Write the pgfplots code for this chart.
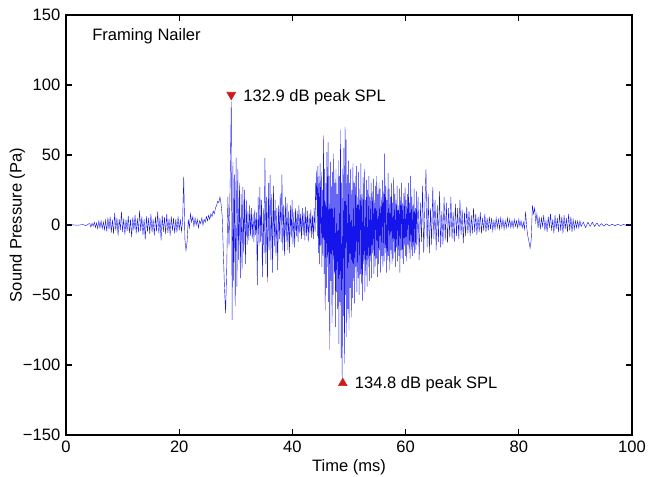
\documentclass[border=0pt]{standalone}
\usepackage{fontspec}
\setmainfont{Liberation Sans}
\usepackage{pgfplots}
\pgfplotsset{compat=1.18}
\definecolor{mkred}{RGB}{200,30,30}
\definecolor{wave}{RGB}{20,20,235}
\begin{document}
\fontsize{12.4}{14}\selectfont
\begin{tikzpicture}
% picture frame in reference proportions (1px = 0.75pt)
\path[use as bounding box] (-49.5pt,-31.5pt) rectangle (437.25pt,326.25pt);
\begin{axis}[
  at={(0,0)}, anchor=south west,
  scale only axis, width=424.5pt, height=315pt,
  xmin=0, xmax=100, ymin=-150, ymax=150,
  xtick={0,20,40,60,80,100},
  ytick={-150,-100,-50,0,50,100,150},
  yticklabels={−150,−100,−50,0,50,100,150},
  tick align=inside, major tick length=4.5pt,
  axis line style={line width=0.8pt},
  every tick/.style={black, line width=0.8pt},
  xlabel={Time (ms)}, ylabel={Sound Pressure (Pa)},
  xlabel style={yshift=3pt},
  ylabel style={yshift=-10pt},
  tick label style={font=\fontsize{12.4}{14}\selectfont},
  label style={font=\fontsize{12.4}{14}\selectfont},
  /pgf/number format/assume math mode=true,
  clip=true,
]
\addplot[wave, line width=0.3pt] coordinates {
(0,0)(1,0.2)(2,-0.2)(3,0.3)(3.5,-0.5)(4,0.8)
(4.2,1)(4.4,-1.5)(4.6,1.2)(4.8,-0.8)(5.0,2)(5.2,-1.8)(5.4,1.5)(5.6,-2.5)(5.8,2.8)(6.0,-2)
(6.2,3)(6.4,-2.6)(6.6,2.2)(6.8,-3.4)(7.0,3.5)
(7.2,-4.5)(7.4,5.2)(7.6,-3.1)(7.8,6.0)(8.0,-5.5)(8.2,3.8)(8.4,-6.2)(8.6,8.5)(8.8,-4.0)(9.0,5.1)
(9.2,-7.5)(9.4,4.2)(9.6,-3.6)(9.8,9.5)(10.0,-5.0)(10.2,4.6)(10.4,-6.8)(10.6,3.9)(10.8,-4.4)(11.0,6.5)
(11.2,-5.8)(11.4,4.0)(11.6,-8.6)(11.8,5.5)(12.0,-3.9)(12.2,7.2)(12.4,-6.1)(12.6,4.8)(12.8,-5.2)(13.0,10.2)
(13.2,-4.3)(13.4,5.9)(13.6,-7.0)(13.8,4.4)(14.0,-10.5)(14.2,6.2)(14.4,-4.8)(14.6,5.0)(14.8,-6.5)(15.0,7.8)
(15.2,-5.2)(15.4,4.1)(15.6,-7.4)(15.8,6.0)(16.0,-4.6)(16.2,9.6)(16.4,-6.0)(16.6,5.2)(16.8,-11.0)(17.0,6.8)
(17.2,-4.9)(17.4,5.6)(17.6,-6.4)(17.8,8.0)(18.0,-5.6)(18.2,4.4)(18.4,-7.6)(18.6,6.2)(18.8,-4.0)(19.0,5.0)
(19.2,-6.0)(19.4,4.2)(19.6,-5.3)(19.8,6.2)(20.0,-3.8)(20.2,4.0)(20.4,-4.5)(20.6,2.5)
(20.8,34.5)(21.0,-10)(21.2,-18)(21.4,-12)(21.6,4)(21.8,-2)(22.0,8)(22.2,2)(22.4,6)(22.6,-1)
(22.8,5)(23.0,0)(23.2,4)(23.4,-2)(23.6,3)(23.8,1)(24.0,5)(24.2,0)(24.4,4)(24.6,2)
(24.8,6)(25.0,3)(25.2,7)(25.4,4)(25.6,8)(25.8,6)(26.0,10)(26.2,8)(26.4,12)(26.6,14)
(26.8,17)(27.0,16)(27.2,20)(27.4,15)(27.6,6)(27.8,-20)(28.0,-45)(28.2,-63)(28.4,-30)(28.6,20)
(28.8,-15)(29.0,30)(29.2,88.3)(29.35,-68)(29.5,45)(29.6,-40)(29.75,36)(29.9,-58)(30.05,48)(30.2,-44)
(30.35,40)(30.5,-25)(30.65,30)(30.8,-38)(30.95,22)(31.1,-32)(31.25,27)(31.4,-20)(31.55,25)(31.7,-28)
(31.85,18)(32.0,-14)(32.15,10)(32.3,-11)(32.45,14)(32.6,-8)(32.75,12)(32.9,-10)(33.05,8)(33.2,-12)
(33.35,11)(33.5,-7)(33.65,9)(33.8,-43)(33.95,20)(34.1,-15)(34.25,27)(34.4,-12)(34.55,18)(34.7,-37)
(34.85,12)(35.0,-20)(35.15,48)(35.3,-28)(35.45,20)(35.6,-41)(35.75,30)(35.9,-18)(36.05,36)(36.2,-25)
(36.35,22)(36.5,-34)(36.65,28)(36.8,-15)(36.95,18)(37.1,-22)(37.25,12)(37.4,-32)(37.55,14)(37.7,-10)
(37.85,22)(38.0,-12)(38.15,36)(38.3,-18)(38.45,14)(38.6,-22)(38.75,20)(38.9,-12)(39.05,16)(39.2,-18)
(39.35,10)(39.5,-20)(39.65,14)(39.8,-9)(39.95,18)(40.1,-14)(40.25,9)(40.4,-16)(40.55,12)(40.7,-8)
(40.85,10)(41.0,-12)(41.15,14)(41.3,-6)(41.45,8)(41.6,-10)(41.75,12)(41.9,-7)(42.05,9)(42.2,-11)
(42.35,13)(42.5,-8)(42.65,10)(42.8,-12)(42.95,8)(43.1,-6)(43.25,11)(43.4,-9)(43.55,7)(43.7,-10)
(43.85,12)(44.0,-5)
(44.1,30)(44.2,18)(44.3,39)(44.4,-8)(44.5,42)(44.6,-20)(44.7,35)(44.8,-28)(44.9,44)(45.0,-15)
(45.1,38)(45.2,-30)(45.3,25)(45.4,-22)(45.5,64)(45.6,-35)(45.7,40)(45.8,-61)(45.9,30)(46.0,-45)
(46.1,52)(46.2,-30)(46.3,59)(46.4,-55)(46.5,35)(46.6,-89)(46.7,45)(46.8,-40)(46.9,28)(47.0,-70)
(47.1,38)(47.2,-50)(47.3,51)(47.4,-35)(47.5,30)(47.6,-73)(47.7,40)(47.8,-48)(47.9,22)(48.0,-60)
(48.1,46)(48.2,-85)(48.3,35)(48.4,-55)(48.5,68)(48.6,-95)(48.7,30)(48.8,-110)(48.9,40)(49.0,-65)
(49.1,55)(49.2,-99)(49.3,70)(49.4,-50)(49.5,61)(49.6,-80)(49.7,36)(49.8,-60)(49.9,46)(50.0,-75)
(50.1,30)(50.2,-45)(50.3,40)(50.4,-66)(50.5,25)(50.6,-52)(50.7,44)(50.8,-40)(50.9,30)(51.0,-56)
(51.1,35)(51.2,-30)(51.3,42)(51.4,-48)(51.5,20)(51.6,-38)(51.7,38)(51.8,-50)(51.9,26)(52.0,-35)
(52.1,44)(52.2,-42)(52.3,22)(52.4,-54)(52.5,34)(52.6,-28)(52.7,40)(52.8,-48)(52.9,18)(53.0,-36)
(53.1,32)(53.2,-44)(53.3,25)(53.4,-30)(53.5,35)(53.6,-40)(53.7,20)(53.8,-26)(53.9,30)(54.0,-38)
(54.1,24)(54.2,-20)(54.3,33)(54.4,-35)(54.5,18)(54.6,-30)(54.7,28)(54.8,-24)(54.9,35)(55.0,-37)
(55.1,22)(55.2,-28)(55.3,30)(55.4,-18)(55.5,26)(55.6,-34)(55.7,20)(55.8,-22)(55.9,32)(56.0,-30)
(56.1,24)(56.2,-26)(56.3,51)(56.4,-20)(56.5,28)(56.6,-34)(56.7,18)(56.8,-25)(56.9,37)(57.0,-22)
(57.1,26)(57.2,-32)(57.3,20)(57.4,-18)(57.5,30)(57.6,-28)(57.7,16)(57.8,-24)(57.9,34)(58.0,-20)
(58.1,22)(58.2,-30)(58.3,18)(58.4,-16)(58.5,28)(58.6,-26)(58.7,14)(58.8,-22)(58.9,26)(59.0,-34)
(59.1,20)(59.2,-18)(59.3,30)(59.4,-24)(59.5,16)(59.6,-28)(59.7,23)(59.8,-15)(59.9,27)(60.0,-22)
(60.1,18)(60.2,-26)(60.3,22)(60.4,-14)(60.5,30)(60.6,-20)(60.7,16)(60.8,-24)(60.9,35)(61.0,-18)
(61.1,20)(61.2,-22)(61.3,14)(61.4,-16)(61.5,26)(61.6,-20)(61.7,12)(61.8,-18)(61.9,24)(62.0,-14)
(62.2,20)(62.4,-25)(62.6,16)(62.8,-12)(63.0,28)(63.2,-20)(63.4,14)(63.6,40)(63.8,-16)(64.0,22)
(64.2,-20)(64.4,12)(64.6,-14)(64.8,27)(65.0,-10)(65.2,18)(65.4,-18)(65.6,14)(65.8,-12)(66.0,24)
(66.2,-16)(66.4,10)(66.6,-14)(66.8,20)(67.0,-11)(67.2,16)(67.4,-13)(67.6,12)(67.8,-9)(68.0,20)
(68.2,-10)(68.4,9)(68.6,-12)(68.8,15)(69.0,-8)(69.2,12)(69.4,-10)(69.6,18)(69.8,-7)(70.0,11)
(70.2,-13)(70.4,9)(70.6,-8)(70.8,13)(71.0,-6)(71.2,10)(71.4,-8)(71.6,7)(71.8,-6)(72.0,12)
(72.2,-5)(72.4,8)(72.6,-7)(72.8,6)(73.0,-5)(73.2,9)(73.4,-6)(73.6,5)(73.8,-4)(74.0,8)
(74.2,-5)(74.4,5)(74.6,-4)(74.8,6)(75.0,-3)(75.2,5)(75.4,-4)(75.6,3)(75.8,-3)(76.0,5)
(76.2,-2)(76.4,4)(76.6,-3)(76.8,5)(77.0,-2)(77.2,4)(77.4,-3)(77.6,3)(77.8,-2)(78.0,5)
(78.2,-1)(78.4,4)(78.6,-2)(78.8,3)(79.0,-2)(79.2,4)(79.4,-1)(79.6,3)(79.8,-2)(80.0,4)
(80.2,-1)(80.4,3)(80.6,-2)(80.8,2)(81.0,-3)(81.2,9.5)(81.4,-2)(81.6,-8)(81.8,-12)(82.0,-16.5)
(82.2,-10)(82.4,14)(82.6,8)(82.8,12)(83.0,2)(83.2,8)(83.4,-2)(83.6,6)(83.8,-3)(84.0,5)
(84.2,-1)(84.4,7)(84.6,-4)(84.8,3)(85.0,-5)(85.2,6)(85.4,-2)(85.6,8)(85.8,-4)(86.0,4)
(86.2,-6)(86.4,7)(86.6,-3)(86.8,5)(87.0,-5)(87.2,8)(87.4,-4)(87.6,6)(87.8,-6)(88.0,7)
(88.2,-3)(88.4,5)(88.6,-5)(88.8,8)(89.0,-4)(89.2,6)(89.4,-5)(89.6,4)(89.8,-3)(90.0,3)
(90.2,-2)(90.4,3)(90.6,-2)(90.8,3)(91.0,-1)(91.4,2)(91.8,-2)(92.2,2)(92.6,-1)(93.0,2)
(93.4,-1)(93.8,1.5)(94.2,-1)(94.6,1)(95.0,-0.8)(95.5,0.8)(96.0,-0.6)(96.5,0.6)(97.0,-0.5)(97.5,0.5)
(98.0,-0.4)(98.5,0.4)(99.0,-0.3)(99.5,0.3)(100,0)
};
% peak markers
\addplot[only marks, mark=triangle*, mark size=3.8pt,
  mark options={fill=mkred, draw=mkred, rotate=180}] coordinates {(29.2,93)};
\addplot[only marks, mark=triangle*, mark size=3.8pt,
  mark options={fill=mkred, draw=mkred}] coordinates {(48.9,-113)};
\node[anchor=west, inner sep=0pt] at (axis cs:31.3,91.5) {132.9 dB peak SPL};
\node[anchor=west, inner sep=0pt] at (axis cs:51.0,-114) {134.8 dB peak SPL};
\node[anchor=west, inner sep=0pt] at (axis cs:4.6,135) {Framing Nailer};
\end{axis}
\end{tikzpicture}
\end{document}
